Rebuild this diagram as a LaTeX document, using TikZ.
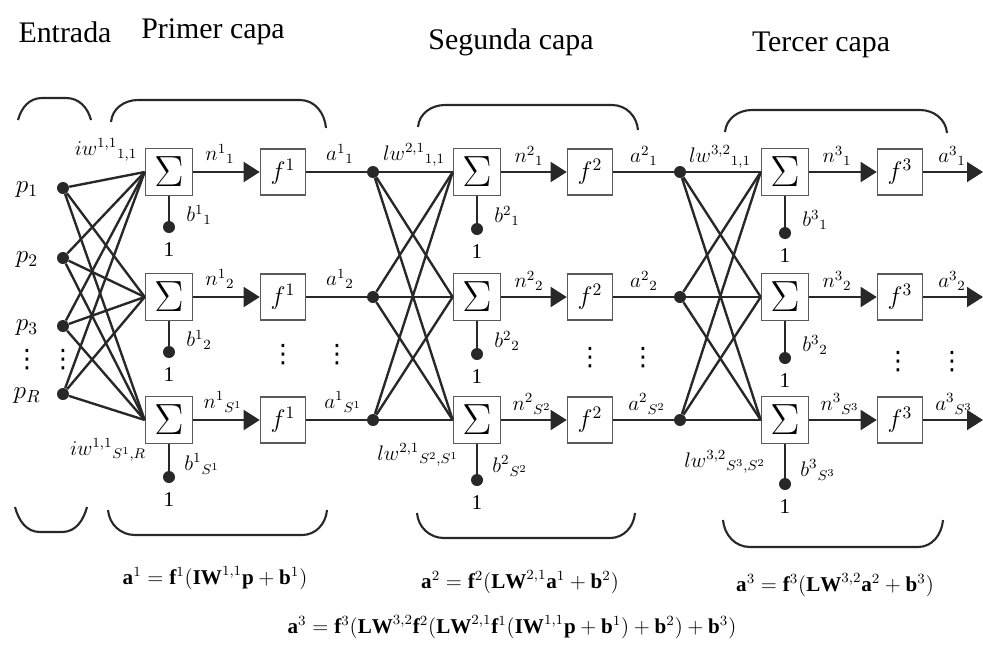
\documentclass[tikz,border=0pt]{standalone}
\usepackage{fontspec}
\setmainfont{Liberation Serif}
\newfontfamily\symfont{DejaVu Sans}
\usetikzlibrary{arrows.meta}
\definecolor{ink}{RGB}{40,40,40}
\definecolor{boxline}{RGB}{90,90,90}

\begin{document}
\begin{tikzpicture}[x=0.02cm, y=-0.02cm, font=\large,
    sumbox/.style={rectangle, draw=boxline, line width=0.9pt,
                   minimum size=0.94cm, inner sep=0pt,
                   font=\fontsize{23}{23}\selectfont},
    funbox/.style={rectangle, draw=boxline, line width=0.9pt,
                   minimum width=0.9cm, minimum height=0.92cm,
                   inner sep=0pt, font=\Large},
    neuron/.style={circle, fill=ink, inner sep=0pt, minimum size=0.24cm},
    weight/.style={draw=ink, line width=1.35pt},
    signal/.style={draw=ink, line width=1pt},
    feed/.style={signal, -{Triangle[length=3.2mm, width=4mm]}},
    brace/.style={draw=ink, line width=1.2pt},
    lbl/.style={inner sep=1pt},
    ellip/.style={inner sep=0pt, font=\symfont\Large},
    eqn/.style={font=\large},
    title/.style={font=\fontsize{17}{20}\selectfont},
]
\useasboundingbox (0,0) rectangle (983,650);

% ─── Titles ──────────────────────────────────────────────────────
\node[title] (tin) at (65,32)  {Entrada};
\node[title] (t1)  at (213,32) {Primer capa};
\node[title] (t2)  at (511,42) {Segunda capa};
\node[title] (t3)  at (821,45) {Tercer capa};

% ─── Inputs ──────────────────────────────────────────────────────
\node[neuron] (p1) at (63,188) {};
\node[neuron] (p2) at (63,258) {};
\node[neuron] (p3) at (63,326) {};
\node[neuron] (pR) at (63,394) {};
\node[font=\Large] (lp1) at (27,190) {$p_1$};
\node[font=\Large] (lp2) at (27,260) {$p_2$};
\node[font=\Large] (lp3) at (27,328) {$p_3$};
\node[font=\Large] (lpR) at (27,396) {$p_R$};
\node[ellip] (vp1) at (27,360) {⋮};
\node[ellip] (vp2) at (63,360) {⋮};

% ─── First layer ─────────────────────────────────────────────────
\node[sumbox] (s11) at (169,172) {$\Sigma$};
\node[sumbox] (s12) at (169,297) {$\Sigma$};
\node[sumbox] (s13) at (169,420) {$\Sigma$};
\node[funbox] (f11) at (283,172) {$f^1$};
\node[funbox] (f12) at (283,297) {$f^1$};
\node[funbox] (f13) at (283,420) {$f^1$};

\node[neuron] (b11) at (169,227) {};
\node[neuron] (b12) at (169,352) {};
\node[neuron] (b13) at (169,477) {};
\node (u11) at (169,250) {1};
\node (u12) at (169,375) {1};
\node (u13) at (169,500) {1};
\node[lbl] at (199,215) {${b^1}_1$};
\node[lbl] at (199,340) {${b^1}_2$};
\node[lbl] at (202,464) {${b^1}_{S^1}$};

\node[lbl] at (220,154) {${n^1}_1$};
\node[lbl] at (220,279) {${n^1}_2$};
\node[lbl] at (223,402) {${n^1}_{S^1}$};
\node[lbl] at (340,154) {${a^1}_1$};
\node[lbl] at (340,279) {${a^1}_2$};
\node[lbl] at (343,402) {${a^1}_{S^1}$};
\node[ellip] (v1f) at (283,355) {⋮};
\node[ellip] (v1a) at (337,355) {⋮};

\node[lbl] at (106,150) {${iw^{1,1}}_{1,1}$};
\node[lbl] at (108,450) {${iw^{1,1}}_{S^1,R}$};

% ─── Second layer ────────────────────────────────────────────────
\node[neuron] (d21) at (373,172) {};
\node[neuron] (d22) at (373,297) {};
\node[neuron] (d23) at (373,420) {};
\node[sumbox] (s21) at (477,172) {$\Sigma$};
\node[sumbox] (s22) at (477,297) {$\Sigma$};
\node[sumbox] (s23) at (477,420) {$\Sigma$};
\node[funbox] (f21) at (590,172) {$f^2$};
\node[funbox] (f22) at (590,297) {$f^2$};
\node[funbox] (f23) at (590,420) {$f^2$};

\node[neuron] (b21) at (477,229) {};
\node[neuron] (b22) at (477,354) {};
\node[neuron] (b23) at (477,480) {};
\node (u21) at (477,252) {1};
\node (u22) at (477,377) {1};
\node (u23) at (477,503) {1};
\node[lbl] at (507,216) {${b^2}_1$};
\node[lbl] at (507,341) {${b^2}_2$};
\node[lbl] at (510,466) {${b^2}_{S^2}$};

\node[lbl] at (529,156) {${n^2}_1$};
\node[lbl] at (529,281) {${n^2}_2$};
\node[lbl] at (532,404) {${n^2}_{S^2}$};
\node[lbl] at (644,156) {${a^2}_1$};
\node[lbl] at (644,281) {${a^2}_2$};
\node[lbl] at (647,404) {${a^2}_{S^2}$};
\node[ellip] (v2f) at (590,358) {⋮};
\node[ellip] (v2a) at (643,358) {⋮};

\node[lbl] at (414,155) {${lw^{2,1}}_{1,1}$};
\node[lbl] at (418,455) {${lw^{2,1}}_{S^2,S^1}$};

% ─── Third layer ─────────────────────────────────────────────────
\node[neuron] (d31) at (680,172) {};
\node[neuron] (d32) at (680,297) {};
\node[neuron] (d33) at (680,420) {};
\node[sumbox] (s31) at (785,172) {$\Sigma$};
\node[sumbox] (s32) at (785,297) {$\Sigma$};
\node[sumbox] (s33) at (785,420) {$\Sigma$};
\node[funbox] (f31) at (900,172) {$f^3$};
\node[funbox] (f32) at (900,297) {$f^3$};
\node[funbox] (f33) at (900,420) {$f^3$};
\coordinate (o31) at (983,172);
\coordinate (o32) at (983,297);
\coordinate (o33) at (983,420);

\node[neuron] (b31) at (785,233) {};
\node[neuron] (b32) at (785,358) {};
\node[neuron] (b33) at (785,484) {};
\node (u31) at (785,256) {1};
\node (u32) at (785,381) {1};
\node (u33) at (785,507) {1};
\node[lbl] at (815,220) {${b^3}_1$};
\node[lbl] at (815,345) {${b^3}_2$};
\node[lbl] at (818,470) {${b^3}_{S^3}$};

\node[lbl] at (837,156) {${n^3}_1$};
\node[lbl] at (837,281) {${n^3}_2$};
\node[lbl] at (840,404) {${n^3}_{S^3}$};
\node[lbl] at (952,156) {${a^3}_1$};
\node[lbl] at (952,281) {${a^3}_2$};
\node[lbl] at (954,404) {${a^3}_{S^3}$};
\node[ellip] (v3f) at (898,362) {⋮};
\node[ellip] (v3a) at (952,362) {⋮};

\node[lbl] at (720,157) {${lw^{3,2}}_{1,1}$};
\node[lbl] at (725,462) {${lw^{3,2}}_{S^3,S^2}$};

% ─── Weights ─────────────────────────────────────────────────────
\foreach \p in {p1,p2,p3,pR}
  \foreach \s in {s11,s12,s13}
    \draw[weight] (\p) -- (\s.west);
\foreach \d in {d21,d22,d23}
  \foreach \s in {s21,s22,s23}
    \draw[weight] (\d) -- (\s.west);
\foreach \d in {d31,d32,d33}
  \foreach \s in {s31,s32,s33}
    \draw[weight] (\d) -- (\s.west);

% ─── Signals, biases ─────────────────────────────────────────────
\foreach \l in {1,2,3}
  \foreach \r in {1,2,3} {
    \draw[feed] (s\l\r) -- (f\l\r);
    \draw[signal] (s\l\r) -- (b\l\r);
  }
\foreach \r in {1,2,3} {
  \draw[signal] (f1\r) -- (d2\r);
  \draw[signal] (f2\r) -- (d3\r);
  \draw[feed] (f3\r) -- (o3\r);
}

% ─── Braces ──────────────────────────────────────────────────────
\draw[brace] (18,120) to[out=75,in=180] (42,98) -- (66,98) to[out=0,in=105] (91,120);
\draw[brace] (111,122) to[out=85,in=180] (138,100) -- (300,100) to[out=0,in=95] (326,128);
\draw[brace] (418,127) to[out=85,in=180] (445,105) -- (612,105) to[out=0,in=95] (638,130);
\draw[brace] (725,132) to[out=85,in=180] (752,110) -- (920,110) to[out=0,in=95] (947,133);

\draw[brace] (15,507) to[out=-75,in=180] (40,532) -- (62,532) to[out=0,in=-105] (87,507);
\draw[brace] (108,510) to[out=-85,in=180] (135,535) -- (302,535) to[out=0,in=-95] (327,510);
\draw[brace] (417,513) to[out=-85,in=180] (444,538) -- (610,538) to[out=0,in=-95] (635,513);
\draw[brace] (723,520) to[out=-85,in=180] (750,547) -- (918,547) to[out=0,in=-95] (943,520);

% ─── Equations ───────────────────────────────────────────────────
\node[eqn] (eq1) at (215,578)
  {$\mathbf{a}^1=\mathbf{f}^1(\mathbf{IW}^{1,1}\mathbf{p}+\mathbf{b}^1)$};
\node[eqn] (eq2) at (520,582)
  {$\mathbf{a}^2=\mathbf{f}^2(\mathbf{LW}^{2,1}\mathbf{a}^1+\mathbf{b}^2)$};
\node[eqn] (eq3) at (835,585)
  {$\mathbf{a}^3=\mathbf{f}^3(\mathbf{LW}^{3,2}\mathbf{a}^2+\mathbf{b}^3)$};
\node[eqn] (eqall) at (512,627)
  {$\mathbf{a}^3=\mathbf{f}^3(\mathbf{LW}^{3,2}\mathbf{f}^2(\mathbf{LW}^{2,1}\mathbf{f}^1(\mathbf{IW}^{1,1}\mathbf{p}+\mathbf{b}^1)+\mathbf{b}^2)+\mathbf{b}^3)$};

\end{tikzpicture}
\end{document}
